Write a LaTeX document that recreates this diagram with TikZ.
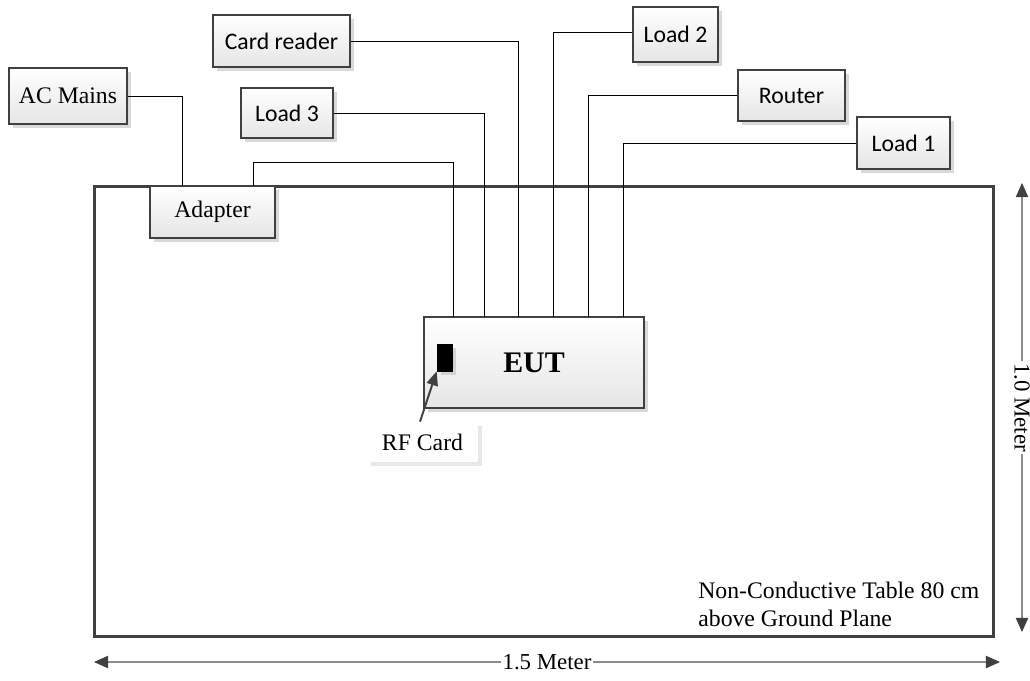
\documentclass[tikz,border=0pt]{standalone}
\usepackage{fontspec}
\setmainfont{Liberation Serif}
\newfontfamily\calibri{Carlito}
\usepackage{tikz}
\usetikzlibrary{arrows.meta, shadows, positioning}

\begin{document}
\begin{tikzpicture}[
  x=0.02cm, y=-0.02cm,
  box/.style={draw=black!75, line width=0.9pt, top color=white, bottom color=black!10,
    drop shadow={shadow xshift=2pt, shadow yshift=-2pt, fill=black!25, opacity=0.6},
    inner sep=0pt, align=center},
  serifbox/.style={box, font=\fontsize{13.5}{15}\selectfont},
  sansbox/.style={box, font=\calibri\fontsize{13.5}{15}\selectfont},
  wire/.style={black, line width=0.5pt},
  dim/.style={{Triangle[length=8pt,width=7pt,color=black!75]}-{Triangle[length=8pt,width=7pt,color=black!75]}, black!45, line width=0.6pt},
  lbl/.style={fill=white, inner sep=1pt, text=black, font=\fontsize{13}{15}\selectfont},
  ptr/.style={-{Triangle[length=8pt,width=6.5pt]}, black!75, line width=1.1pt}
]
  \useasboundingbox (0,0) rectangle (1030,680);

  % table
  \node[draw=black!75, line width=1.7pt, minimum width=18cm, minimum height=9.02cm, inner sep=0pt] (table) at (544,411.5) {};
  \node[anchor=north west, align=left, inner sep=0pt, font=\fontsize{13.5}{16}\selectfont] (tabletext) at (698,582)
    {Non-Conductive Table 80 cm\\above Ground Plane};

  % boxes
  \node[serifbox, minimum width=2.36cm, minimum height=1.12cm] (acmains) at (68,96) {AC Mains};
  \node[serifbox, minimum width=2.5cm, minimum height=1.04cm] (adapter) at (212.5,212) {Adapter};
  \node[sansbox, minimum width=2.74cm, minimum height=1.04cm] (cardreader) at (281.5,41) {Card reader};
  \node[sansbox, minimum width=1.84cm, minimum height=1.0cm] (load3) at (287,113) {Load 3};
  \node[sansbox, minimum width=1.7cm, minimum height=1.1cm] (load2) at (675.5,34.5) {Load 2};
  \node[sansbox, minimum width=2.14cm, minimum height=1.02cm] (router) at (791.5,95.5) {Router};
  \node[sansbox, minimum width=1.86cm, minimum height=1.04cm] (load1) at (903.5,143) {Load 1};
  \node[box, minimum width=4.4cm, minimum height=1.82cm, font=\bfseries\fontsize{17}{20}\selectfont] (eut) at (534,362.5) {EUT};

  % rf card
  \node[draw=black, fill=black, minimum width=0.3cm, minimum height=0.54cm, inner sep=0pt,
    drop shadow={shadow xshift=2pt, shadow yshift=-2pt, fill=black!25, opacity=0.6}] (rfcard) at (444.5,357.5) {};
  \node[fill=white, minimum width=2.22cm, minimum height=0.8cm, inner sep=0pt,
    drop shadow={shadow xshift=2pt, shadow yshift=-2pt, fill=black!15, opacity=0.6},
    font=\fontsize{13.5}{15}\selectfont] (rflabel) at (422.5,442) {RF Card};
  \draw[ptr] ([xshift=-0.05cm]rflabel.north) -- (rfcard.south west);

  % pins on the EUT and adapter
  \coordinate (adin) at (182,186);
  \coordinate (adout) at (253,186);
  \coordinate (p1) at (453,317);
  \coordinate (p2) at (484,317);
  \coordinate (p3) at (518,317);
  \coordinate (p4) at (553,317);
  \coordinate (p5) at (588,317);
  \coordinate (p6) at (623,317);

  % cables
  \draw[wire] (acmains.east) -| (adin);
  \draw[wire] (adout) -- ++(0,-24) -| (p1);
  \draw[wire] (load3.east) -| (p2);
  \draw[wire] (cardreader.east) -| (p3);
  \draw[wire] ([yshift=0.05cm]load2.west) -| (p4);
  \draw[wire] (router.west) -| (p5);
  \draw[wire] (load1.west) -| (p6);

  % dimensions
  \coordinate (hl) at (94,662);
  \coordinate (hr) at (1000,662);
  \coordinate (vt) at (1022,183);
  \coordinate (vb) at (1022,632);
  \draw[dim] (hl) -- node[lbl] {1.5 Meter} (hr);
  \draw[dim] (vt) -- node[lbl, rotate=-90] {1.0 Meter} (vb);
\end{tikzpicture}
\end{document}
